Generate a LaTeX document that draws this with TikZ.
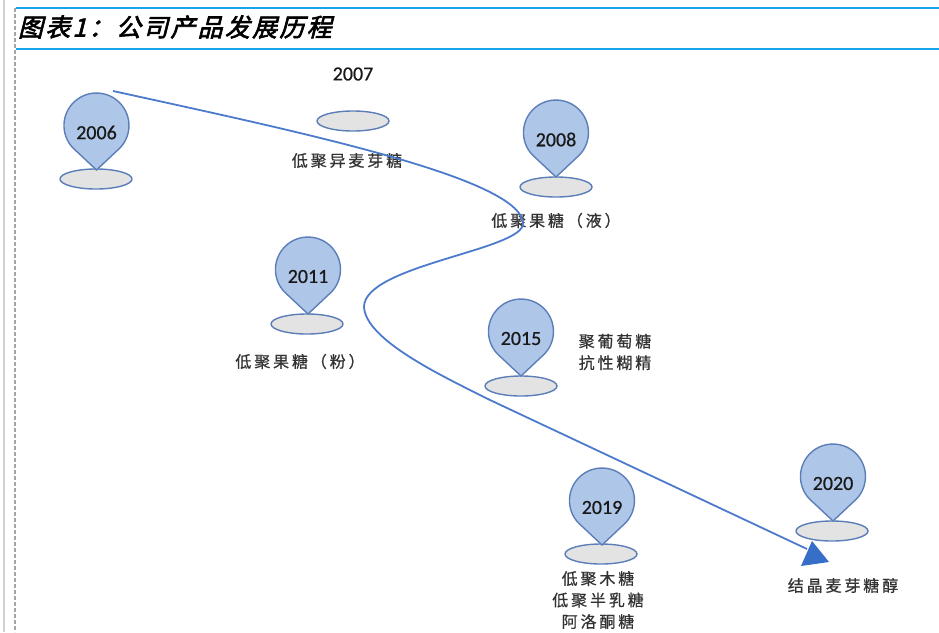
\documentclass[tikz,border=0pt]{standalone}
\usepackage{fontspec}
\setmainfont{Carlito}
\newfontfamily\yearfont[FakeBold=0.6]{Carlito}
\newfontfamily\cjklabel[LetterSpace=18,FakeBold=0.7]{Noto Sans CJK SC}
\newfontfamily\cjktitle[FakeSlant=0.25,FakeBold=2.5,LetterSpace=9]{Noto Sans CJK SC}
\usetikzlibrary{shapes,positioning,calc}
\definecolor{headline}{RGB}{20,165,235}
\definecolor{pinfill}{RGB}{174,198,232}
\definecolor{pinedge}{RGB}{92,126,184}
\definecolor{basefill}{RGB}{227,227,227}
\definecolor{pathblue}{RGB}{76,122,204}
\definecolor{headblue}{RGB}{54,110,200}

\begin{document}
\begin{tikzpicture}[
    x=1pt, y=-1pt,
    every node/.style={inner sep=0pt, outer sep=0pt},
    base/.style={ellipse, draw=pinedge, fill=basefill, line width=1.4pt, minimum width=72pt, minimum height=20pt},
    year/.style={font=\yearfont\fontsize{20}{20}\selectfont, text=black!90},
    label/.style={font=\cjklabel\fontsize{16}{21.5}\selectfont, text=black!80, align=center},
    pics/droppin/.style={code={
        \draw[draw=pinedge, fill=pinfill, line width=1.4pt] (0,44.5) -- (-23.8,22.2)
            arc[start angle=137, end angle=403, radius=32.5] -- cycle;
        \node[year] (-year) at (0,7) {#1};
    }}
]
    \useasboundingbox (0,0) rectangle (939,632);

    % Frame
    \coordinate (pageleft) at (4,0);
    \coordinate (pageleftend) at (4,632);
    \coordinate (dashtop) at (15,8);
    \coordinate (dashend) at (15,632);
    \coordinate (rulea) at (16,8);
    \coordinate (ruleaend) at (939,8);
    \coordinate (ruleb) at (16,49);
    \coordinate (rulebend) at (939,49);
    \draw[black!18, line width=1.6pt] (pageleft) -- (pageleftend);
    \draw[black!35, dash pattern=on 4pt off 2pt, line width=1.2pt] (dashtop) -- (dashend);
    \draw[headline, line width=1.6pt] (rulea) -- (ruleaend);
    \draw[headline, line width=1.6pt] (ruleb) -- (rulebend);

    % Title
    \node[anchor=west, font=\cjktitle\fontsize{25}{25}\selectfont] (title) at (18,27) {图表1：公司产品发展历程};

    % Bases
    \node[base] (base2006) at (96,179) {};
    \node[base] (base2007) at (353,121) {};
    \node[base] (base2008) at (556,187) {};
    \node[base] (base2011) at (307,324) {};
    \node[base] (base2015) at (521,386) {};
    \node[base] (base2019) at (601,554) {};
    \node[base] (base2020) at (832,531) {};

    % Pins
    \pic (pin2006) at (96.5,125.5) {droppin=2006};
    \pic (pin2008) at (556,132.5) {droppin=2008};
    \pic (pin2011) at (308,269.5) {droppin=2011};
    \pic (pin2015) at (521,331.5) {droppin=2015};
    \pic (pin2019) at (602,500.5) {droppin=2019};
    \pic (pin2020) at (833,476.5) {droppin=2020};
    \node[year] (year2007) at (353,74) {2007};

    % Labels
    \node[label] (lab2007) at (347,160.5) {低聚异麦芽糖};
    \node[label] (lab2008) at (556,220.5) {低聚果糖（液）};
    \node[label] (lab2011) at (300,361.5) {低聚果糖（粉）};
    \node[label] (lab2015) at (615,352) {聚葡萄糖\\抗性糊精};
    \node[label] (lab2019) at (598,600) {低聚木糖\\低聚半乳糖\\阿洛酮糖};
    \node[label] (lab2020) at (843,585.5) {结晶麦芽糖醇};

    % Growth path
    \coordinate (pathstart) at (113,91);
    \coordinate (bendright) at (523,223);
    \coordinate (bendleft) at (364,307);
    \coordinate (straight) at (490,400);
    \coordinate (pathend) at (807,549);
    \draw[pathblue, line width=1.8pt] (pathstart) .. controls (300,132) and (520,178) .. (bendright)
        .. controls (525,250) and (364,265) .. (bendleft)
        .. controls (366,340) and (440,375) .. (straight) -- (pathend);
    \fill[headblue] (812,541) -- (801,566) -- (829,562) -- cycle;
\end{tikzpicture}
\end{document}
